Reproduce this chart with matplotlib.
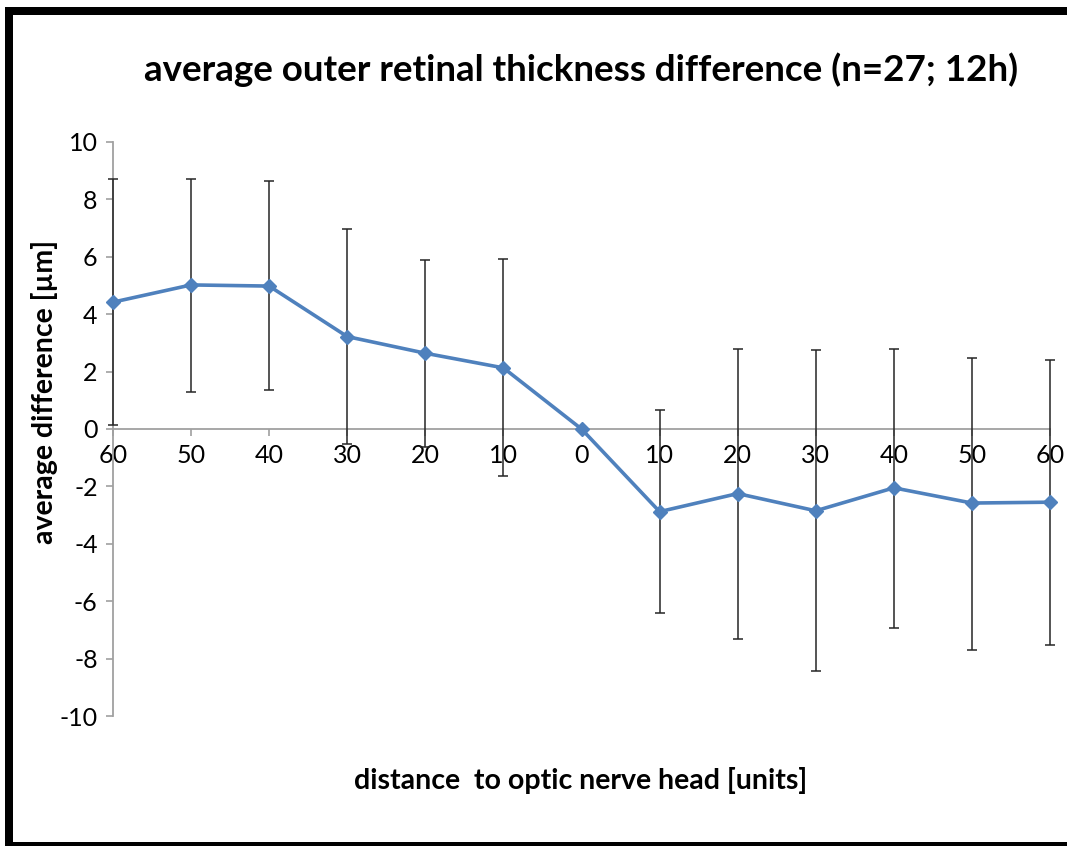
import matplotlib
matplotlib.use("Agg")
import matplotlib.pyplot as plt
from matplotlib.lines import Line2D
import numpy as np

categories = ["60", "50", "40", "30", "20", "10", "0", "10", "20", "30", "40", "50", "60"]
values = [4.42, 5.02, 4.98, 3.22, 2.64, 2.13, 0.0, -2.88, -2.25, -2.85, -2.05, -2.58, -2.55]
err_upper = [4.28, 3.70, 3.66, 3.75, 3.26, 3.80, 0.0, 3.54, 5.05, 5.60, 4.85, 5.05, 4.95]
err_lower = [4.28, 3.72, 3.62, 3.74, 3.27, 3.77, 0.0, 3.53, 5.06, 5.58, 4.90, 5.12, 4.98]

plt.rcParams['font.family'] = ['Lato', 'DejaVu Sans']

fig = plt.figure(figsize=(10.67, 8.46), dpi=100)
ax = fig.add_axes([113/1067, 1-716/846, (1050-113)/1067, (716-142)/846])

x = np.arange(len(categories))
eb = ax.errorbar(x, values, yerr=[err_lower, err_upper], fmt='none', ecolor='#262626',
                 elinewidth=1.1, capsize=3.5, capthick=1.1, zorder=3)
for art in eb.lines[1] + eb.lines[2]:
    art.set_clip_on(False)
ax.plot(x, values, color='#4F81BD', lw=2.6, marker='D', markersize=7, zorder=4, clip_on=False)

ax.set_xlim(0, len(categories)-1)
ax.set_ylim(-10, 10)

for s in ['top', 'right']:
    ax.spines[s].set_visible(False)
ax.spines['bottom'].set_position(('data', 0))
ax.spines['bottom'].set_color('#A0A0A0')
ax.spines['left'].set_color('#A0A0A0')
ax.spines['bottom'].set_linewidth(1.3)
ax.spines['left'].set_linewidth(1.3)

ax.set_yticks(np.arange(-10, 11, 2))
ax.set_yticklabels([str(v) for v in range(-10, 11, 2)])
ax.set_xticks(x)
ax.set_xticklabels(categories)
ax.tick_params(axis='x', direction='out', length=5, width=1.2, color='#A0A0A0', pad=6,
               labelcolor='black', labelsize=18)
ax.tick_params(axis='y', direction='out', length=5, width=1.2, color='#A0A0A0', pad=6,
               labelcolor='black', labelsize=18)

fig.text(581/1067, 1-70/846, 'average outer retinal thickness difference (n=27; 12h)',
         ha='center', va='center', fontsize=26.5, fontweight='bold')
fig.text(45/1067, 1-392/846, 'average difference [µm]', ha='center', va='center',
         rotation=90, fontsize=20.5, fontweight='bold')
fig.text(581/1067, 1-780/846, 'distance  to optic nerve head [units]', ha='center', va='center',
         fontsize=20.5, fontweight='bold')

# black frame
lw = 8 * 72 / 100
fig.add_artist(Line2D([5/1067, 1], [1-11/846, 1-11/846], color='black', lw=lw, solid_capstyle='butt'))
fig.add_artist(Line2D([9/1067, 9/1067], [1-7/846, 0], color='black', lw=lw, solid_capstyle='butt'))
fig.add_artist(Line2D([5/1067, 1], [1-846/846, 1-846/846], color='black', lw=lw, solid_capstyle='butt'))

fig.savefig('out.png', dpi=100)
